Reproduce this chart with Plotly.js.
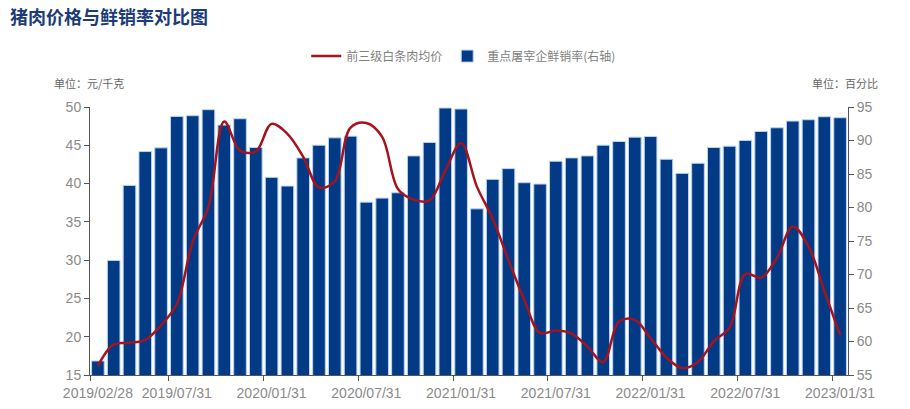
<!DOCTYPE html>
<html>
<head>
<meta charset="utf-8">
<script src="https://cdn.plot.ly/plotly-3.0.1.min.js"></script>
<style>html,body{margin:0;padding:0;background:#fff;}#chart{width:910px;height:409px;}</style>
</head>
<body>
<div id="chart"></div>
<script>
// Categories: month-end dates
const months = [
  '2019/02/28','2019/03/31','2019/04/30','2019/05/31','2019/06/30','2019/07/31','2019/08/31','2019/09/30','2019/10/31','2019/11/30','2019/12/31',
  '2020/01/31','2020/02/29','2020/03/31','2020/04/30','2020/05/31','2020/06/30','2020/07/31','2020/08/31','2020/09/30','2020/10/31','2020/11/30','2020/12/31',
  '2021/01/31','2021/02/28','2021/03/31','2021/04/30','2021/05/31','2021/06/30','2021/07/31','2021/08/31','2021/09/30','2021/10/31','2021/11/30','2021/12/31',
  '2022/01/31','2022/02/28','2022/03/31','2022/04/30','2022/05/31','2022/06/30','2022/07/31','2022/08/31','2022/09/30','2022/10/31','2022/11/30','2022/12/31',
  '2023/01/31'
];
// 前三级白条肉均价 (元/千克, left axis)
const porkPrice = [16.2, 19.0, 19.2, 19.6, 21.5, 24.3, 32.4, 37.0, 48.1, 44.3, 44.2, 47.8, 46.5, 43.5, 39.5, 40.3, 47.3, 47.9, 46.1, 39.3, 37.9, 37.8, 41.7, 45.3, 39.6, 35.4, 30.0, 24.8, 20.5, 20.8, 20.4, 18.7, 16.7, 22.0, 22.2, 19.8, 17.3, 15.9, 16.7, 19.4, 21.2, 28.2, 27.7, 30.3, 34.4, 31.8, 26.0, 20.2];
// 重点屠宰企鲜销率 (%, right axis)
const freshRate = [57.1, 72.1, 83.3, 88.35, 88.9, 93.6, 93.7, 94.6, 92.3, 93.25, 88.95, 84.5, 83.2, 87.4, 89.3, 90.4, 90.65, 80.8, 81.4, 82.2, 87.7, 89.7, 94.85, 94.7, 79.8, 84.2, 85.8, 83.7, 83.5, 86.9, 87.4, 87.7, 89.3, 89.85, 90.5, 90.6, 87.2, 85.1, 86.6, 88.95, 89.15, 90.0, 91.35, 91.9, 92.9, 93.1, 93.55, 93.4];
// Tick labels on x axis
const xTickLabels = ['2019/02/28','2019/07/31','2020/01/31','2020/07/31','2021/01/31','2021/07/31','2022/01/31','2022/07/31','2023/01/31'];
const seriesNames = ['前三级白条肉均价', '重点屠宰企鲜销率(右轴)'];

const xPos = months.map((m, i) => i + 0.5);
const tickIdx = xTickLabels.map(t => months.indexOf(t));
const labelPos = tickIdx.map(i => i + 0.5);

const grey = '#8a8a8a';
const axisCol = '#555555';

const traces = [
  {
    type: 'bar', name: seriesNames[1], x: xPos, y: freshRate, xaxis: 'x', yaxis: 'y',
    width: 0.8,
    marker: {color: '#023a86', line: {color: '#b8d4f0', width: 1}},
    hoverinfo: 'skip'
  },
  {
    type: 'scatter', mode: 'lines', name: seriesNames[0], x: xPos, y: porkPrice, xaxis: 'x2', yaxis: 'y2',
    line: {color: '#a5131f', width: 2.5, shape: 'spline', smoothing: 1},
    hoverinfo: 'skip'
  }
];

const layout = {
  width: 910, height: 409,
  margin: {l: 90, r: 62, t: 107, b: 34},
  paper_bgcolor: '#fff', plot_bgcolor: '#fff',
  font: {family: 'Liberation Sans, Arial, sans-serif', color: grey},
  title: {
    text: '猪肉价格与鲜销率对比图',
    font: {family: 'Noto Sans CJK SC', size: 18, color: '#1b3c78', weight: 'bold'},
    x: 0.011, xanchor: 'left', xref: 'container',
    y: 0.956, yanchor: 'middle', yref: 'container'
  },
  showlegend: true,
  legend: {
    orientation: 'h', x: 0.493, xanchor: 'center', y: 1.19, yanchor: 'middle',
    font: {family: 'Noto Sans CJK SC', size: 12, color: '#7f7f7f'},
    traceorder: 'reversed', bgcolor: 'rgba(0,0,0,0)'
  },
  bargap: 0,
  xaxis: {
    range: [0, 48], tickmode: 'array', tickvals: tickIdx, showticklabels: false,
    showgrid: false, zeroline: false, showline: true, linecolor: axisCol, linewidth: 1,
    ticks: 'outside', ticklen: 5, tickcolor: axisCol
  },
  xaxis2: {
    overlaying: 'x', anchor: 'y2', side: 'bottom', range: [0, 48],
    tickmode: 'array', tickvals: labelPos, ticktext: xTickLabels,
    showgrid: false, zeroline: false, showline: false,
    ticks: 'outside', ticklen: 5, tickcolor: 'rgba(0,0,0,0)',
    tickfont: {size: 14, color: grey}
  },
  yaxis: {
    side: 'right', range: [55, 95], dtick: 5, tick0: 55,
    showgrid: false, zeroline: false, showline: true, linecolor: axisCol, linewidth: 1,
    ticks: 'outside', ticklen: 5, tickcolor: axisCol,
    tickfont: {size: 14, color: grey}
  },
  yaxis2: {
    side: 'left', overlaying: 'y', anchor: 'x2', range: [15, 50], dtick: 5, tick0: 15,
    showgrid: false, zeroline: false, showline: true, linecolor: axisCol, linewidth: 1,
    ticks: 'outside', ticklen: 5, tickcolor: axisCol,
    tickfont: {size: 14, color: grey}
  },
  annotations: [
    {text: '单位：元/千克', xref: 'paper', yref: 'paper', x: -0.05, y: 1.09, xanchor: 'left', yanchor: 'middle', showarrow: false,
     font: {family: 'Noto Sans CJK SC', size: 11, color: '#666'}},
    {text: '单位：百分比', xref: 'paper', yref: 'paper', x: 1.042, y: 1.09, xanchor: 'right', yanchor: 'middle', showarrow: false,
     font: {family: 'Noto Sans CJK SC', size: 11, color: '#666'}}
  ]
};

Plotly.newPlot('chart', traces, layout, {displayModeBar: false, staticPlot: true});
</script>
</body>
</html>
